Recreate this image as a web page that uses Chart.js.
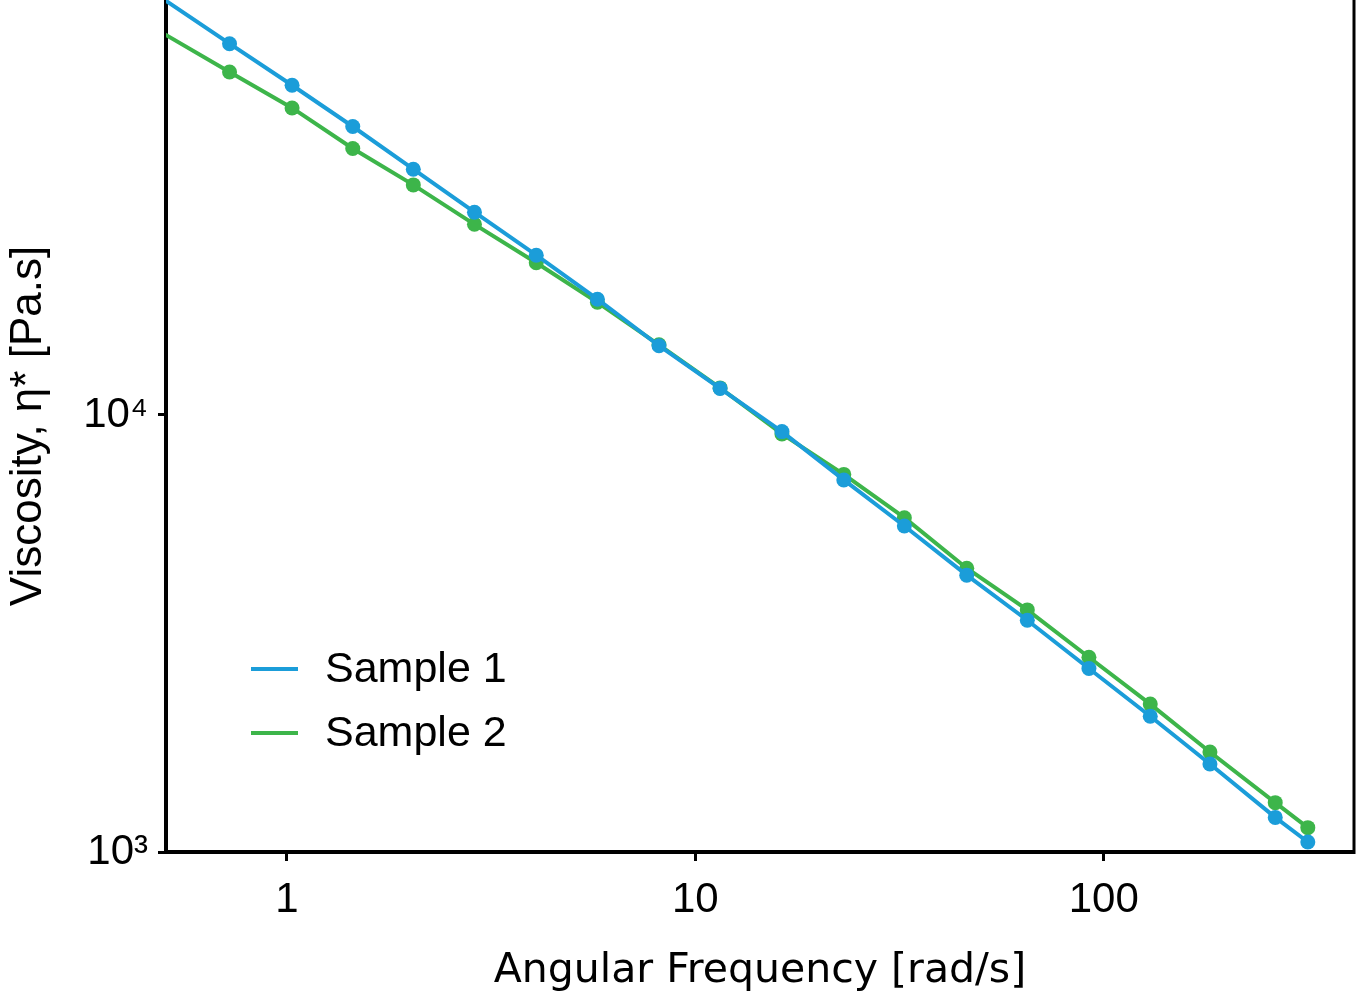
<!DOCTYPE html>
<html>
<head>
<meta charset="utf-8">
<script src="https://cdn.jsdelivr.net/npm/chart.js@4.4.1/dist/chart.umd.min.js"></script>
<style>
  html, body { margin: 0; padding: 0; background: #fff; }
  #wrap { width: 1356px; height: 996px; position: relative; }
</style>
</head>
<body>
<div id="wrap"><canvas id="chart"></canvas></div>
<script>
// angular frequency [rad/s]; the first point lies just left of the visible axis
const freq = [0.45, 0.724, 1.03, 1.45, 2.04, 2.88, 4.08, 5.76, 8.15, 11.5, 16.3,
  23.1, 32.5, 46.2, 65.0, 92.0, 130, 182, 263, 316];
const sample1 = [95400, 70700, 56800, 45700, 36500, 29100, 23200, 18400, 14400, 11500, 9160,
  7100, 5570, 4300, 3390, 2630, 2045, 1590, 1200, 1054];
const sample2 = [78900, 60900, 50400, 40700, 33600, 27300, 22300, 18100, 14470, 11530, 9050,
  7310, 5820, 4460, 3580, 2790, 2180, 1694, 1297, 1137];
const seriesNames = ["Sample 1", "Sample 2"];
const seriesColors = ["#1b9dd9", "#3db54a"];
const xTicks = [1, 10, 100];
const yTicks = [1000, 10000];
const yTickLabels = ["10\u00b3", "10\u2074"];

const FONT = "'Liberation Sans', Arial, sans-serif";
const WIDE_FONT = "'DejaVu Sans', sans-serif";
const X_MIN = 0.506, X_MAX = 410;
const Y_MIN = 1000, Y_MAX = 89000;

const toPoints = (ys) => freq.map((x, i) => ({ x: x, y: ys[i] }));

// draws the right frame line and the legend inside the plot
const framePlugin = {
  id: "frame",
  afterDatasetsDraw(chart) {
    const { ctx, chartArea } = chart;
    ctx.save();
    ctx.strokeStyle = "#000";
    ctx.lineWidth = 3;
    ctx.beginPath();
    ctx.moveTo(chartArea.right, chartArea.top);
    ctx.lineTo(chartArea.right, chartArea.bottom + 2);
    ctx.stroke();

    ctx.font = "43px " + FONT;
    ctx.textBaseline = "middle";
    ctx.fillStyle = "#000";
    chart.data.datasets.forEach((ds, i) => {
      const y = chartArea.top + 669 + i * 64;
      const x0 = chartArea.left + 85;
      ctx.strokeStyle = ds.borderColor;
      ctx.lineWidth = 4;
      ctx.beginPath();
      ctx.moveTo(x0, y);
      ctx.lineTo(x0 + 47, y);
      ctx.stroke();
      ctx.fillText(ds.label, x0 + 74, y + 1);
    });
    ctx.restore();
  },
};

const hideOffAxis = (ctx) => {
  const p = ctx.raw;
  return p && p.x < X_MIN ? 0 : 7.5;
};

const noPadding = (s) => {
  s.paddingTop = 0;
  s.paddingBottom = 0;
  s.paddingLeft = 0;
  s.paddingRight = 0;
};

new Chart(document.getElementById("chart"), {
  type: "line",
  data: {
    datasets: [0, 1].map((i) => ({
      label: seriesNames[i],
      data: toPoints(i === 0 ? sample1 : sample2),
      borderColor: seriesColors[i],
      backgroundColor: seriesColors[i],
      pointBackgroundColor: seriesColors[i],
      pointBorderWidth: 0,
      pointRadius: hideOffAxis,
      borderWidth: 4,
      tension: 0,
    })),
  },
  options: {
    responsive: true,
    maintainAspectRatio: false,
    animation: false,
    devicePixelRatio: 1,
    layout: { autoPadding: false, padding: { top: 0, right: 2, bottom: 0, left: 0 } },
    plugins: { legend: { display: false }, tooltip: { enabled: false } },
    scales: {
      x: {
        type: "logarithmic",
        min: X_MIN,
        max: X_MAX,
        afterBuildTicks: (s) => { s.ticks = xTicks.map((v) => ({ value: v })); },
        afterFit: (s) => { s.height = 144; noPadding(s); },
        ticks: {
          callback: (v) => String(v),
          font: { family: FONT, size: 42 },
          color: "#000",
          padding: 14,
          maxRotation: 0,
          autoSkip: false,
        },
        grid: { drawOnChartArea: false, drawTicks: true, tickLength: 9, tickWidth: 3, tickColor: "#000" },
        border: { display: true, color: "#000", width: 4 },
        title: {
          display: true,
          text: "Angular Frequency [rad/s]",
          font: { family: WIDE_FONT, size: 41 },
          color: "#000",
          padding: { top: 0, bottom: 0 },
        },
      },
      y: {
        type: "logarithmic",
        min: Y_MIN,
        max: Y_MAX,
        afterBuildTicks: (s) => { s.ticks = yTicks.map((v) => ({ value: v })); },
        afterFit: (s) => { s.width = 166; noPadding(s); },
        ticks: {
          callback: (v) => yTickLabels[yTicks.indexOf(v)],
          font: { family: FONT, size: 42 },
          color: "#000",
          padding: 10,
          autoSkip: false,
        },
        grid: { drawOnChartArea: false, drawTicks: true, tickLength: 8, tickWidth: 3, tickColor: "#000" },
        border: { display: true, color: "#000", width: 4 },
        title: {
          display: true,
          text: "Viscosity, \u03b7* [Pa.s]",
          font: { family: FONT, size: 44 },
          color: "#000",
          padding: { top: 2, bottom: 0 },
        },
      },
    },
  },
  plugins: [framePlugin],
});
</script>
</body>
</html>
